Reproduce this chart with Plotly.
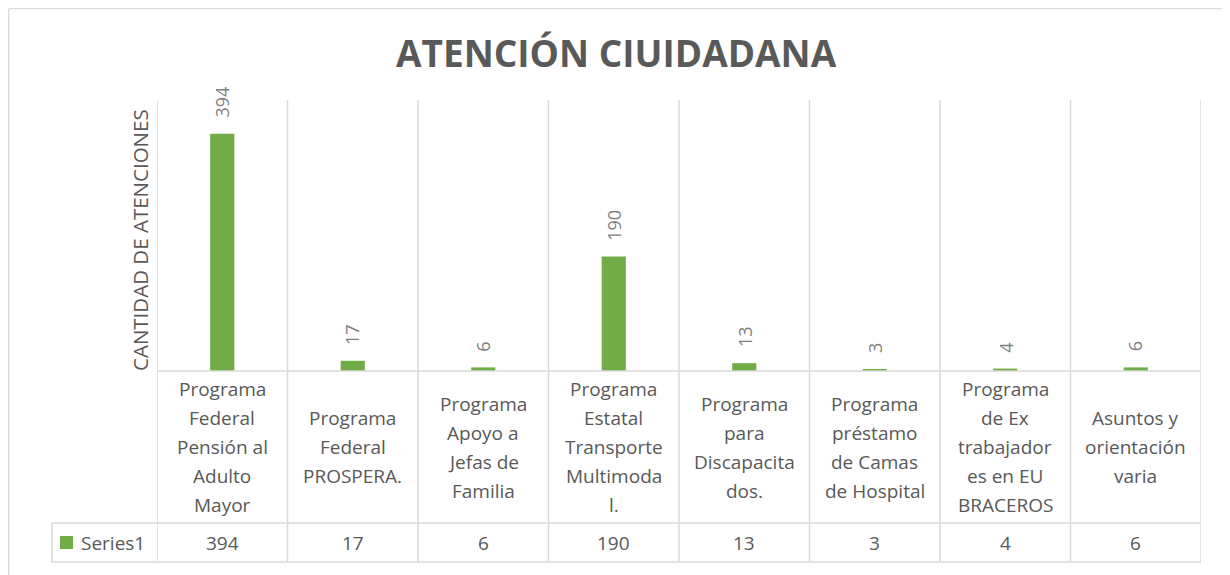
import plotly.graph_objects as go

# ---- data ----
categories = [
    "Programa<br>Federal<br>Pensión al<br>Adulto<br>Mayor",
    "Programa<br>Federal<br>PROSPERA.",
    "Programa<br>Apoyo a<br>Jefas de<br>Familia",
    "Programa<br>Estatal<br>Transporte<br>Multimoda<br>l.",
    "Programa<br>para<br>Discapacita<br>dos.",
    "Programa<br>préstamo<br>de Camas<br>de Hospital",
    "Programa<br>de Ex<br>trabajador<br>es en EU<br>BRACEROS",
    "Asuntos y<br>orientación<br>varia",
]
values = [394, 17, 6, 190, 13, 3, 4, 6]
series_name = "Series1"
chart_title = "ATENCIÓN CIUIDADANA"
y_title = "CANTIDAD DE ATENCIONES"

# ---- layout geometry (page pixels; the page body has an 8px margin) ----
OFF = 8
W, H = 1230 - OFF, 575 - OFF
L, R, T, B = 157, 1201, 100, 371   # plot area in page pixels
pw, ph = R - L, B - T

def px(x):
    return (x - L) / pw

def py(y):
    return (B - y) / ph

GRID = "#D9D9D9"
TXT = "#595959"
GREEN = "#70AD47"
FONT = "Open Sans"

fig = go.Figure()
fig.add_trace(go.Bar(
    x=categories, y=values, name=series_name,
    marker=dict(color=GREEN, line=dict(width=0)),
    width=0.185, showlegend=False, hoverinfo="y",
))

shapes = []
n = len(categories)
LW = 1.5
for i in range(n + 1):
    shapes.append(dict(type="line", xref="x", yref="paper",
                       x0=i - 0.5, x1=i - 0.5, y0=1, y1=py(562),
                       line=dict(color=GRID, width=LW), layer="below"))
shapes.append(dict(type="line", xref="paper", yref="paper",
                   x0=0, x1=1, y0=0, y1=0, line=dict(color=GRID, width=LW)))
for yy in (523, 562):
    shapes.append(dict(type="line", xref="paper", yref="paper",
                       x0=px(52), x1=1, y0=py(yy), y1=py(yy),
                       line=dict(color=GRID, width=LW)))
shapes.append(dict(type="line", xref="paper", yref="paper",
                   x0=px(52), x1=px(52), y0=py(523), y1=py(562),
                   line=dict(color=GRID, width=LW)))
# legend key square
shapes.append(dict(type="rect", xref="paper", yref="paper",
                   x0=px(60), x1=px(73), y0=py(536), y1=py(549),
                   fillcolor=GREEN, line=dict(width=0)))
# outer chart border (left and top visible)
shapes.append(dict(type="line", xref="paper", yref="paper",
                   x0=px(OFF + 0.7), x1=px(OFF + 0.7), y0=py(OFF + 0.7), y1=py(590),
                   line=dict(color=GRID, width=1.3)))
shapes.append(dict(type="line", xref="paper", yref="paper",
                   x0=px(OFF + 0.7), x1=px(1250), y0=py(OFF + 0.7), y1=py(OFF + 0.7),
                   line=dict(color=GRID, width=1.3)))

annotations = []
LINE_H = 29
for c, v in zip(categories, values):
    annotations.append(dict(x=c, y=v, xref="x", yref="y", text=str(v),
                            textangle=-90, showarrow=False, yanchor="bottom",
                            xanchor="center", yshift=14,
                            font=dict(family=FONT, size=18, color="#7F7F7F")))
    lines = c.split("<br>")
    k = len(lines)
    for j, line in enumerate(lines):
        yc = 447 + (j - (k - 1) / 2) * LINE_H
        annotations.append(dict(x=c, y=py(yc), xref="x", yref="paper", text=line,
                                showarrow=False, yanchor="middle", xanchor="center",
                                font=dict(family=FONT, size=19, color=TXT)))
    annotations.append(dict(x=c, y=py(542.5), xref="x", yref="paper", text=str(v),
                            showarrow=False, yanchor="middle", xanchor="center",
                            font=dict(family=FONT, size=19, color=TXT)))
annotations.append(dict(x=px(79), y=py(542.5), xref="paper", yref="paper",
                        text=series_name, showarrow=False, xanchor="left",
                        yanchor="middle", font=dict(family=FONT, size=19, color=TXT)))
annotations.append(dict(x=px(140), y=py(240), xref="paper", yref="paper",
                        text=y_title, textangle=-90, showarrow=False,
                        xanchor="center", yanchor="middle",
                        font=dict(family=FONT, size=20.5, color=TXT)))
annotations.append(dict(x=px(616), y=py(53), xref="paper", yref="paper",
                        text="<b>" + chart_title + "</b>", showarrow=False,
                        xanchor="center", yanchor="middle",
                        font=dict(family=FONT, size=37, color=TXT)))

fig.update_layout(
    width=W, height=H,
    margin=dict(l=L - OFF, r=(W + OFF) - R, t=T - OFF, b=(H + OFF) - B),
    paper_bgcolor="white", plot_bgcolor="white",
    shapes=shapes, annotations=annotations,
    xaxis=dict(type="category", range=[-0.5, n - 0.5], showticklabels=False,
               showgrid=False, zeroline=False, showline=False, ticks=""),
    yaxis=dict(range=[0, 450], showticklabels=False, showgrid=False,
               zeroline=False, showline=False, ticks=""),
    showlegend=False,
)

fig.write_html("out.html")
